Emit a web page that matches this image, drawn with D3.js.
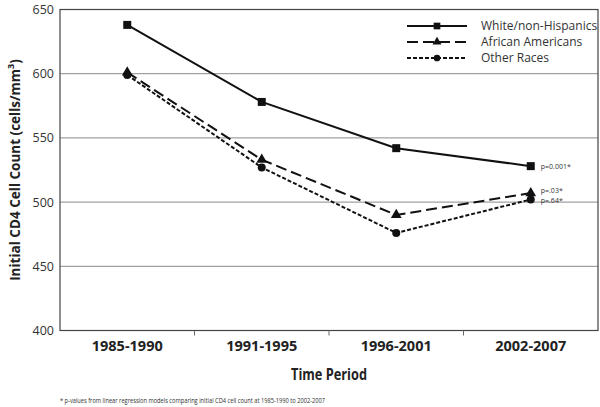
<!DOCTYPE html>
<html><head><meta charset="utf-8">
<script src="https://cdn.jsdelivr.net/npm/d3@7"></script>
<style>body{margin:0;background:#fff}svg{display:block}text{font-family:"Open Sans",sans-serif}</style>
</head><body><svg width="600" height="407"></svg>
<script>
const categories = ["1985-1990","1991-1995","1996-2001","2002-2007"];
const white = [638, 578, 542, 528];
const african = [601, 533, 490, 507];
const other = [599, 527, 476, 502];
const seriesNames = ["White/non-Hispanics","African Americans","Other Races"];
const pLabels = ["p=0.001*","p=.03*","p=.64*"];
const yTicks = [400,450,500,550,600,650];

const svg = d3.select("svg");
const L=60,R=598,T=9.5,B=330.5;
const x = d3.scaleBand().domain(categories).range([L,R]);
const y = d3.scaleLinear().domain([400,650]).range([B,T]);

// gridlines
svg.append("g").selectAll("line").data(yTicks.filter(d=>d>400&&d<650)).join("line")
  .attr("x1",L).attr("x2",R).attr("y1",d=>y(d)).attr("y2",d=>y(d))
  .attr("stroke","#8a8a8a").attr("stroke-width",1);
// frame
svg.append("rect").attr("x",L).attr("y",T).attr("width",R-L).attr("height",B-T)
  .attr("fill","none").attr("stroke","#444").attr("stroke-width",1.2);

// y axis
const ya = svg.append("g").attr("transform",`translate(${L},0)`)
  .call(d3.axisLeft(y).tickValues(yTicks).tickSize(0).tickPadding(6));
ya.select(".domain").remove();
ya.selectAll("text").attr("font-size",12.5).attr("fill","#333");

// x axis
const xa = svg.append("g").attr("transform",`translate(0,${B})`)
  .call(d3.axisBottom(x).tickSize(0).tickPadding(10));
xa.select(".domain").remove();
xa.selectAll("text").attr("font-size",14.5).attr("font-weight","bold").attr("fill","#222");
// boundary ticks
svg.append("g").selectAll("line").data(categories.slice(1)).join("line")
  .attr("x1",d=>x(d)).attr("x2",d=>x(d)).attr("y1",B).attr("y2",B+5)
  .attr("stroke","#666");

const cx = d=>x(d)+x.bandwidth()/2;
const series = [
  {name:seriesNames[0], vals:white, dash:null, marker:"square"},
  {name:seriesNames[1], vals:african, dash:"11,5", marker:"triangle"},
  {name:seriesNames[2], vals:other, dash:"4,2", marker:"circle"}
];
const sym = {square:d3.symbolSquare, triangle:d3.symbolTriangle, circle:d3.symbolCircle};
const symSize = {square:64, triangle:50, circle:50};
const line = d3.line().x((d,i)=>cx(categories[i])).y(d=>y(d));

series.forEach(s=>{
  svg.append("path").attr("d",line(s.vals)).attr("fill","none").attr("stroke","#111")
    .attr("stroke-width",2).attr("stroke-dasharray",s.dash);
  svg.append("g").selectAll("path").data(s.vals).join("path")
    .attr("transform",(d,i)=>`translate(${cx(categories[i])},${y(d)})`)
    .attr("d",d3.symbol(sym[s.marker],symSize[s.marker])).attr("fill","#111");
});

// p labels
const lastX = cx(categories[3]);
const pOff = [3, -0.5, 3];
[white, african, other].forEach((v,i)=>{
  svg.append("text").attr("x",lastX+10).attr("y",y(v[3])+pOff[i]).text(pLabels[i])
    .attr("font-family","Liberation Serif,serif").attr("font-size",7).attr("fill","#333");
});

// legend
const lg = svg.append("g");
series.forEach((s,i)=>{
  const ly = 26 + i*16;
  lg.append("line").attr("x1",407).attr("x2",467).attr("y1",ly).attr("y2",ly)
    .attr("stroke","#111").attr("stroke-width",2).attr("stroke-dasharray",s.dash);
  lg.append("path").attr("transform",`translate(437,${ly})`)
    .attr("d",d3.symbol(sym[s.marker],symSize[s.marker]*0.7)).attr("fill","#111");
  lg.append("text").attr("x",481).attr("y",ly+4).text(s.name).attr("font-size",12).attr("fill","#333");
});

// titles
svg.append("text").attr("transform",`translate(20,${(T+B)/2}) rotate(-90)`).attr("text-anchor","middle")
  .attr("font-size",13.5).attr("font-weight","bold").attr("fill","#222")
  .html('Initial CD4 Cell Count (cells/mm<tspan baseline-shift="super" font-size="9">3</tspan>)');
svg.append("text").attr("x",(L+R)/2).attr("y",380).attr("text-anchor","middle")
  .attr("font-size",15.5).attr("font-weight","bold").attr("fill","#222")
  .attr("textLength",76).attr("lengthAdjust","spacingAndGlyphs").text("Time Period");
svg.append("text").attr("x",60).attr("y",403).attr("font-size",6.8).attr("fill","#333")
  .attr("textLength",265).attr("lengthAdjust","spacingAndGlyphs")
  .text("* p-values from linear regression models comparing initial CD4 cell count at 1985-1990 to 2002-2007");
</script></body></html>
